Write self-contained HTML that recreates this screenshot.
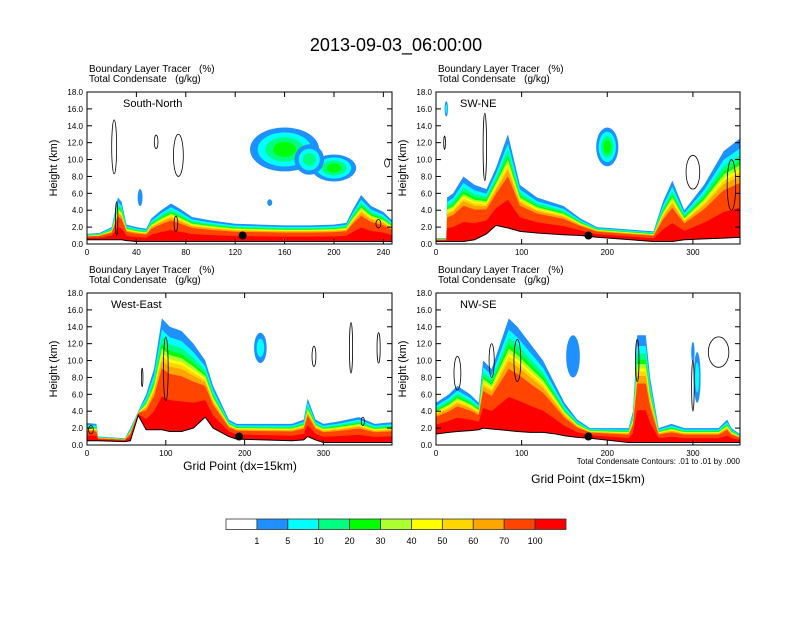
<!DOCTYPE html>
<html><head><meta charset="utf-8"><style>
body{margin:0;background:#fff;width:792px;height:612px;overflow:hidden;font-family:"Liberation Sans",sans-serif}
svg text{font-family:"Liberation Sans",sans-serif;white-space:pre}
</style></head><body>
<svg id="s" width="792" height="612" viewBox="0 0 792 612" xmlns="http://www.w3.org/2000/svg">
<text x="396" y="51" font-size="18" text-anchor="middle">2013-09-03_06:00:00</text>
</svg>
<script>
// ---------- data ----------
const levelColors = ["#1E90FF","#00FFFF","#00FF80","#00FF00","#ADFF2F","#FFFF00","#FFD700","#FFA500","#FF4500","#FF0000"];
const levelFrac = [1,0.9,0.83,0.77,0.73,0.69,0.66,0.62,0.55,0.3];
const barColors = ["#FFFFFF","#1E90FF","#00FFFF","#00FF80","#00FF00","#ADFF2F","#FFFF00","#FFD700","#FFA500","#FF4500","#FF0000"];
const barLabels = ["1","5","10","20","30","40","50","60","70","100"];

const snXs   = [0,10,20,25,28,32,40,48,52,60,68,75,85,100,120,140,160,180,200,210,215,222,230,240,247];
const snTop  = [1.2,1.3,2,5.5,5,2.3,2,1.8,3,4,4.8,4.2,3.2,2.8,2.4,2.3,2.2,2.2,2.3,2.5,4,5.8,4.5,3.8,2.8];
const snTerr = [0.5,0.5,0.5,0.5,0.5,0.4,0.3,0.3,0.3,0.3,0.3,0.3,0.3,0.3,0.3,0.3,0.3,0.3,0.3,0.3,0.3,0.3,0.3,0.3,0.3];
const snBlobs = [[160,11.2,28,2.6,4],[200,9.0,18,1.6,4],[180,10,12,1.8,3],[148,4.9,2,0.4,1],[43,5.5,2,1,1]];
const snLines = [[22,11.5,2,3.2],[56,12.1,1.5,0.8],[74,10.5,4,2.5],[72,2.4,1.5,0.9],[236,2.4,2,0.5],[243,9.6,2,0.5],[24,3,1,2]];

const swXs   = [0,12,13,20,32,45,59,70,84,98,118,149,169,188,254,265,276,290,313,336,355];
const swTop  = [0.7,0.7,5.5,6,8,7,6.5,9,13,7,5.5,4.5,3,2,1.5,5,7.5,4,7,11,12.5];
const swTerr = [0.3,0.3,0.3,0.3,0.3,0.5,1.2,2.2,1.9,1.5,1.3,1.1,1.0,0.8,0.3,0.3,0.3,0.5,0.6,0.7,0.8];
const swBlobs = [[200,11.5,13,2.3,4],[12,16,2,0.9,2]];
const swLines = [[57,11.5,2,4],[10,12,1,0.8],[300,8.5,8,2],[345,7,5,3]];

const weXs   = [0,12,14,48,55,65,75,85,95,105,120,135,150,160,170,180,190,260,275,280,290,300,320,345,365,387];
const weTop  = [2.6,2.5,1,0.8,2,4,6,9,15,14,13.5,12,10,7,5,3,2.5,2.5,3,5.5,3,2.5,2.8,3.3,2.5,2.7];
const weTerr = [0.5,0.5,0.5,0.4,0.5,3.5,1.8,1.8,1.8,1.6,1.6,2,3.3,2.0,1.5,1.0,0.7,0.5,0.6,1.0,0.6,0.3,0.3,0.3,0.3,0.3];
const weBlobs = [[220,11.5,8,1.8,2]];
const weLines = [[288,10.5,2.5,1.2],[335,11.5,2,3],[370,11.5,2,1.8],[70,8,1,1.1],[100,9,3,3.8],[5,1.8,3,0.5],[350,2.8,2,0.5]];

const nwXs   = [0,15,25,40,50,55,65,75,85,95,110,125,140,150,165,180,225,230,235,245,250,260,275,290,330,340,345,355];
const nwTop  = [5,6,7,6,5,10,9,12,15,14,12,10,7,5,3,2,2,4,13,13,8,2,2.5,2,2,3,2,1.3];
const nwTerr = [1.3,1.5,1.6,1.7,1.8,2.0,1.9,1.8,1.7,1.6,1.5,1.5,1.3,1.1,0.9,0.8,0.3,0.3,0.3,0.3,0.3,0.3,0.3,0.3,0.3,0.3,0.3,0.3];
const nwBlobs = [[160,10.5,8,2.5,1],[305,8,4,3,2],[300,11,2,1.2,1]];
const nwLines = [[25,8.5,4,2],[65,10,3,2],[95,10,4,2.5],[235,10,2,2.5],[330,11,12,1.8],[300,7,1.5,3]];

const panels = [
 {name:"south-north",label:"South-North",x0:87,x1:392,y0:92,y1:244,xmax:247,xt:[0,40,80,120,160,200,240],xs:snXs,top:snTop,terr:snTerr,blobs:snBlobs,lines:snLines,dot:126},
 {name:"sw-ne",label:"SW-NE",x0:436,x1:740,y0:92,y1:244,xmax:355,xt:[0,100,200,300],xs:swXs,top:swTop,terr:swTerr,blobs:swBlobs,lines:swLines,dot:178},
 {name:"west-east",label:"West-East",x0:87,x1:392,y0:293,y1:445,xmax:387,xt:[0,100,200,300],xs:weXs,top:weTop,terr:weTerr,blobs:weBlobs,lines:weLines,dot:193},
 {name:"nw-se",label:"NW-SE",x0:436,x1:740,y0:293,y1:445,xmax:355,xt:[0,100,200,300],xs:nwXs,top:nwTop,terr:nwTerr,blobs:nwBlobs,lines:nwLines,dot:178}
];
const yTicks = [0,2,4,6,8,10,12,14,16,18];

// ---------- drawing ----------
const svg = document.getElementById('s');
const NS = "http://www.w3.org/2000/svg";
function mk(tag, attrs, parent){ const e=document.createElementNS(NS,tag); for(const k in attrs) e.setAttribute(k,attrs[k]); (parent||svg).appendChild(e); return e; }

panels.forEach((p,pi)=>{
  const sx = v => p.x0 + (p.x1-p.x0)*v/p.xmax;
  const sy = z => p.y1 - (p.y1-p.y0)*z/18;
  const g = mk('g',{});
  
  
  const cp = mk('clipPath',{id:'c'+pi},g);
  mk('rect',{x:p.x0,y:p.y0,width:p.x1-p.x0,height:p.y1-p.y0},cp);
  const plot = mk('g',{'clip-path':'url(#c'+pi+')'},g);
  levelColors.forEach((col,k)=>{
    let d = 'M'+sx(p.xs[0])+','+sy(p.terr[0]);
    p.xs.forEach((x,i)=>{ d += ' L'+sx(x)+','+sy(p.terr[i]+(p.top[i]-p.terr[i])*levelFrac[k]); });
    for(let i=p.xs.length-1;i>=0;i--) d += ' L'+sx(p.xs[i])+','+sy(p.terr[i]);
    const band = mk('path',{d:d+'Z',fill:col},plot);
    
    
  });
  p.blobs.forEach(b=>{
    for(let k=0;k<b[4];k++){
      const f = 1 - k/(b[4]+0.5);
      const e = mk('ellipse',{cx:sx(b[0]),cy:sy(b[1]),rx:Math.abs(sx(b[2]*f)-sx(0)),ry:Math.abs(sy(0)-sy(b[3]*f)),fill:levelColors[k]},plot);
      
      
    }
  });
  let td = 'M'+sx(p.xs[0])+','+sy(0);
  p.xs.forEach((x,i)=>{ td += ' L'+sx(x)+','+sy(p.terr[i]); });
  td += ' L'+sx(p.xs[p.xs.length-1])+','+sy(0)+'Z';
  const terr = mk('path',{d:td,fill:'#fff',stroke:'#000','stroke-width':1},plot);
  
  
  p.lines.forEach(l=>{
    const e = mk('ellipse',{cx:sx(l[0]),cy:sy(l[1]),rx:Math.abs(sx(l[2])-sx(0)),ry:Math.abs(sy(0)-sy(l[3])),fill:'none',stroke:'#000','stroke-width':0.8},plot);
    
    
  });
  const dot = mk('circle',{cx:sx(p.dot),cy:sy(1),r:4,fill:'#000'},plot);
  
  
  const fr = mk('rect',{x:p.x0,y:p.y0,width:p.x1-p.x0,height:p.y1-p.y0,fill:'none',stroke:'#000','stroke-width':1},g);
  
  
  yTicks.forEach(t=>{
    const y=sy(t);
    mk('line',{x1:p.x0,x2:p.x0+5,y1:y,y2:y,stroke:'#000'},g);
    mk('line',{x1:p.x1,x2:p.x1-5,y1:y,y2:y,stroke:'#000'},g);
    const tx = mk('text',{x:p.x0-4,y:y+3,'font-size':8,'text-anchor':'end'},g);
    tx.textContent = t.toFixed(1);
    
    
  });
  p.xt.forEach(t=>{
    const x=sx(t);
    mk('line',{x1:x,x2:x,y1:p.y1,y2:p.y1-5,stroke:'#000'},g);
    mk('line',{x1:x,x2:x,y1:p.y0,y2:p.y0+5,stroke:'#000'},g);
    const tx = mk('text',{x:x,y:p.y1+11,'font-size':8,'text-anchor':'middle'},g);
    tx.textContent = t;
    
    
  });
  const t1 = mk('text',{x:p.x0+2,y:p.y0-20,'font-size':10},g);
  t1.textContent = 'Boundary Layer Tracer\u00a0\u00a0\u00a0(%)';
  
  
  const t2 = mk('text',{x:p.x0+2,y:p.y0-10,'font-size':10},g);
  t2.textContent = 'Total Condensate\u00a0\u00a0\u00a0(g/kg)';
  
  
  const lb = mk('text',{x:p.x0+(pi===0?36:24),y:p.y0+15,'font-size':11},g);
  lb.textContent = p.label;
  
  
  const yt = mk('text',{x:0,y:0,'font-size':11,'text-anchor':'middle',transform:'translate('+(p.x0-30)+','+((p.y0+p.y1)/2)+') rotate(-90)'},g);
  yt.textContent = 'Height (km)';
  
  
});

const xt1 = mk('text',{x:240,y:470,'font-size':12,'text-anchor':'middle'});
xt1.textContent = 'Grid Point (dx=15km)';


const xt2 = mk('text',{x:588,y:483,'font-size':12,'text-anchor':'middle'});
xt2.textContent = 'Grid Point (dx=15km)';


const cnote = mk('text',{x:740,y:464,'font-size':8,'text-anchor':'end'});
cnote.textContent = 'Total Condensate Contours: .01 to .01 by .000';



const cb = mk('g',{});


const bw = 340/barColors.length;
barColors.forEach((c,i)=>{
  const r = mk('rect',{x:226+i*bw,y:519,width:bw,height:10.5,fill:c,stroke:'#333','stroke-width':0.8},cb);
  
  
});
barLabels.forEach((l,i)=>{
  const t = mk('text',{x:226+(i+1)*bw,y:544,'font-size':9,'text-anchor':'middle'},cb);
  t.textContent = l;
  
  
});
</script>
</body></html>
